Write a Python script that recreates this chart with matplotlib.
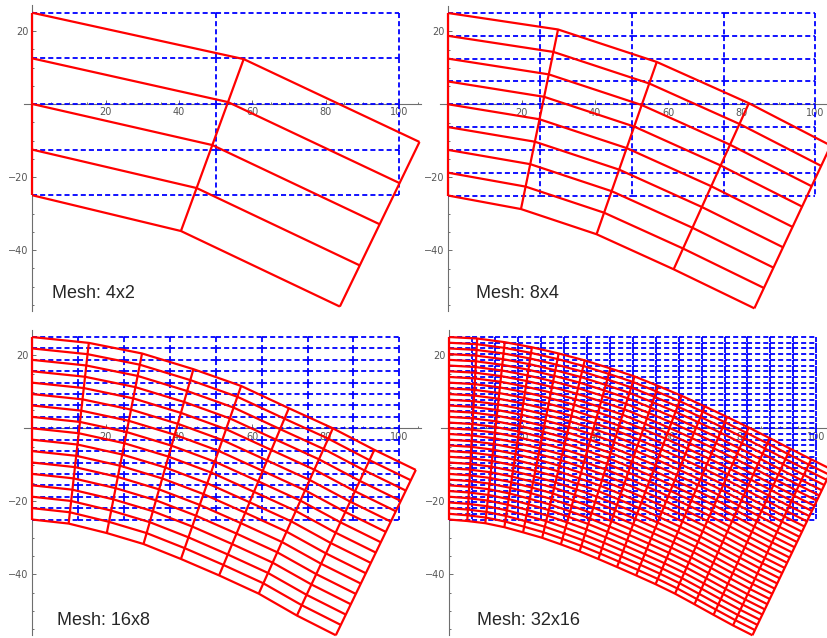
import matplotlib.pyplot as plt
from matplotlib.collections import LineCollection
from matplotlib.ticker import FixedLocator
import numpy as np

# undeformed beam: 100 long, 50 high
beam_len = 100.0
beam_h = 50.0

mesh_labels = ['Mesh: 4x2', 'Mesh: 8x4', 'Mesh: 16x8', 'Mesh: 32x16']
n_rows = [4, 8, 16, 32]   # elements through the height
n_cols = [2, 4, 8, 16]    # elements along the length

# deformed section ends (top / bottom node of every column)
top_x_4x2 = [0, 57.6, 105.5]
top_y_4x2 = [25, 12.3, -10.4]
bot_x_4x2 = [0, 40.5, 83.8]
bot_y_4x2 = [-25, -34.8, -55.5]

top_x_8x4 = [0, 29.9, 56.8, 81.9, 104.2]
top_y_8x4 = [25, 20.5, 11.6, 0.3, -11.3]
bot_x_8x4 = [0, 19.8, 40.4, 61.4, 83.4]
bot_y_8x4 = [-25, -28.7, -35.6, -45.2, -55.9]

top_x_16x8 = [0, 15.4, 29.9, 43.9, 56.9, 69.9, 81.9, 93.2, 104.5]
top_y_16x8 = [25, 23.4, 20.5, 16.2, 11.6, 5.5, 0.0, -5.9, -11.4]
bot_x_16x8 = [0, 9.9, 20.3, 30.3, 40.5, 50.9, 61.7, 72.1, 82.7]
bot_y_16x8 = [-25, -26.1, -28.7, -31.7, -35.8, -40.3, -45.3, -51.3, -56.7]

top_x_32x16 = [0, 7.6, 15.1, 22.5, 29.8, 36.9, 43.9, 50.5, 56.9,
               63.3, 69.6, 75.7, 81.6, 87.3, 92.9, 98.6, 104.2]
top_y_32x16 = [25, 24.6, 23.6, 22.2, 20.5, 18.6, 16.4, 14.2, 11.6,
               8.9, 6.0, 3.1, 0.2, -2.7, -5.6, -8.5, -11.3]
bot_x_32x16 = [0, 4.9, 9.8, 15.0, 20.1, 25.3, 30.4, 35.5, 40.6,
               45.7, 50.9, 56.2, 61.5, 66.8, 72.0, 77.3, 82.6]
bot_y_32x16 = [-25, -25.4, -26.0, -27.1, -28.5, -30.0, -31.8, -33.7, -35.8,
               -38.0, -40.3, -42.7, -45.3, -48.2, -51.1, -54.0, -56.7]

sections = [
    (top_x_4x2, top_y_4x2, bot_x_4x2, bot_y_4x2),
    (top_x_8x4, top_y_8x4, bot_x_8x4, bot_y_8x4),
    (top_x_16x8, top_y_16x8, bot_x_16x8, bot_y_16x8),
    (top_x_32x16, top_y_32x16, bot_x_32x16, bot_y_32x16),
]

# label anchor (data coords) per panel
label_x = [5.4, 7.5, 6.8, 7.5]
label_y = [-53.1, -53.0, -53.9, -53.9]

W, Hpx = 828, 638
fig = plt.figure(figsize=(W / 100, Hpx / 100), dpi=100)
fig.patch.set_facecolor('white')

# pixel position of the data origin in each panel, px per unit
origins = [(32.3, 104.0), (448.3, 104.3), (32.3, 428.3), (449.3, 428.3)]
sx, sy = 3.67, 3.65
xlim = (-2.2, 106.0)
ylim = (-56.6, 27.0)

for k in range(4):
    ox, oy = origins[k]
    left = ox + xlim[0] * sx
    right = ox + xlim[1] * sx
    top = oy - ylim[1] * sy
    bottom = oy - ylim[0] * sy
    ax = fig.add_axes([left / W, 1 - bottom / Hpx, (right - left) / W, (bottom - top) / Hpx])
    ax.set_xlim(*xlim)
    ax.set_ylim(*ylim)
    ax.patch.set_alpha(0)

    nr, nc = n_rows[k], n_cols[k]

    # undeformed mesh, blue dashed: every element edge is its own dashed segment
    xs = np.linspace(0, beam_len, nc + 1)
    ys = np.linspace(-beam_h / 2, beam_h / 2, nr + 1)
    edges = []
    for j in range(nr + 1):
        for i in range(nc):
            edges.append([(xs[i], ys[j]), (xs[i + 1], ys[j])])
    for i in range(nc + 1):
        for j in range(nr):
            edges.append([(xs[i], ys[j + 1]), (xs[i], ys[j])])
    blue = LineCollection(edges, colors='#0000ff', linewidths=1.3,
                          linestyles=[(0, (2.8, 1.7))], zorder=2)
    ax.add_collection(blue)

    # deformed mesh, red
    tx, ty, bx, by = [np.array(a, dtype=float) for a in sections[k]]
    frac = np.arange(nr + 1) / nr
    X = bx[:, None] + (tx - bx)[:, None] * frac[None, :]
    Y = by[:, None] + (ty - by)[:, None] * frac[None, :]
    segs = []
    for j in range(nr + 1):
        segs.append(np.column_stack([X[:, j], Y[:, j]]))
    for i in range(nc + 1):
        segs.append(np.column_stack([X[i, :], Y[i, :]]))
    lc = LineCollection(segs, colors='#ff0000', linewidths=1.6, zorder=3)
    lc.set_clip_on(False)
    ax.add_collection(lc)

    # Mathematica-like axes through the origin
    for s in ['top', 'right']:
        ax.spines[s].set_visible(False)
    for s in ['left', 'bottom']:
        ax.spines[s].set_position(('data', 0))
        ax.spines[s].set_color('#6e6e6e')
        ax.spines[s].set_linewidth(0.8)
        ax.spines[s].set_zorder(1)

    ax.xaxis.set_major_locator(FixedLocator([20, 40, 60, 80, 100]))
    ax.xaxis.set_minor_locator(FixedLocator([v for v in range(5, 106, 5) if v % 20]))
    ax.yaxis.set_major_locator(FixedLocator([-40, -20, 20]))
    ax.yaxis.set_minor_locator(FixedLocator([v for v in range(-55, 26, 5) if v % 20]))
    ax.tick_params(which='both', direction='in', color='#6e6e6e', width=0.7,
                   labelsize=7, labelcolor='#555555', pad=2.5)
    ax.tick_params(which='major', length=3)
    ax.tick_params(which='minor', length=1.6)

    ax.text(label_x[k], label_y[k], mesh_labels[k], fontsize=13,
            family=['Liberation Sans', 'DejaVu Sans'], color='#262626',
            ha='left', va='baseline')

plt.savefig('out.png', dpi=100)
